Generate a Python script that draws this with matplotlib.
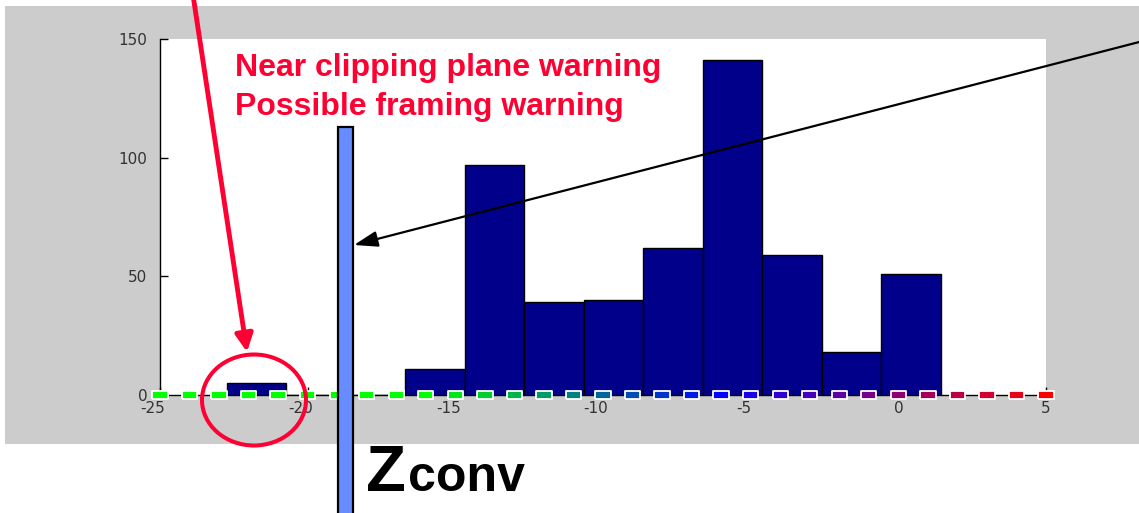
import numpy as np
import matplotlib
matplotlib.use("Agg")
import matplotlib.pyplot as plt
import matplotlib.transforms as mtransforms
from matplotlib.patches import Rectangle, Ellipse, FancyArrowPatch
from matplotlib.colors import LinearSegmentedColormap

W, H = 1139, 513

# depth histogram, 12 equal bins
bin_start = -22.74
bin_width = 2.015
counts = [5, 0, 0, 11, 97, 39, 40, 62, 141, 59, 18, 51]

# convergence plane
z_conv = -18.73
z_conv_top = 113

# coloured depth scale along the axis
depth_scale = [-25, -24, -23, -22, -21, -20, -19, -18, -17, -16, -15,
               -14, -13, -12, -11, -10, -9, -8, -7, -6, -5, -4, -3, -2,
               -1, 0, 1, 2, 3, 4, 5]
scale_green, scale_blue, scale_red = -16, -6, 5

x_ticks = [-25, -20, -15, -10, -5, 0, 5]
y_ticks = [0, 50, 100, 150]

warning_lines = ["Near clipping plane warning", "Possible framing warning"]

RED = "#ff0033"
NAVY = "#00008b"


def px(x, y):
    # image pixel -> figure fraction
    return x / W, 1 - y / H


fig = plt.figure(figsize=(W / 100, H / 100), dpi=100, facecolor="white")

# grey panel behind the plot
fig.add_artist(Rectangle(px(5, 444), (W - 5) / W, (444 - 6) / H,
                         transform=fig.transFigure, facecolor="#cccccc",
                         edgecolor="none", zorder=-10))

ax = fig.add_axes([160 / W, 1 - 395 / H, (1046 - 160) / W, (395 - 39) / H])
ax.set_facecolor("white")
ax.set_xlim(-25, 5)
ax.set_ylim(0, 150)

edges = bin_start + bin_width * np.arange(len(counts))
ax.bar(edges, counts, width=bin_width, align="edge", color=NAVY,
       edgecolor="black", linewidth=1, zorder=2)

# coloured scale markers
span = scale_red - scale_green
cmap = LinearSegmentedColormap.from_list(
    "depth", [(0, (0, 1, 0)), ((scale_blue - scale_green) / span, (0, 0, 1)),
              (1, (1, 0, 0))])
pos = np.clip((np.array(depth_scale) - scale_green) / span, 0, 1)
rect = [(-1, -0.58), (1, -0.58), (1, 0.58), (-1, 0.58), (-1, -0.58)]
ax.scatter(depth_scale, np.zeros(len(depth_scale)), c=cmap(pos), marker=rect,
           s=11 ** 2, edgecolors="white", linewidths=1.3, clip_on=False,
           zorder=5)

# Zconv bar, runs off the bottom of the picture
ax.bar(z_conv, z_conv_top + 60, bottom=-60, width=0.5, color="#668cff",
       edgecolor="black", linewidth=1.6, clip_on=False, zorder=8)

for s in ["top", "right"]:
    ax.spines[s].set_visible(False)
ax.spines["left"].set_linewidth(1)
ax.spines["bottom"].set_linewidth(1)
ax.spines["bottom"].set_zorder(1)

ax.set_xticks(x_ticks)
ax.set_xticklabels([str(t) for t in x_ticks])
ax.set_yticks(y_ticks)
ax.tick_params(axis="both", direction="in", length=6, width=1,
               labelsize=11, labelcolor="#333333")
ax.tick_params(axis="x", pad=4)
ax.tick_params(axis="y", pad=9)

# negative labels sit a little left of their tick
shift = mtransforms.ScaledTranslation(-7 / 100, 0, fig.dpi_scale_trans)
for t, tick in zip(x_ticks, ax.xaxis.get_major_ticks()):
    if t < 0:
        tick.label1.set_transform(tick.label1.get_transform() + shift)

# annotations
for i, line in enumerate(warning_lines):
    fig.text(*px(235, 76 + 39 * i), line, color=RED, fontsize=23,
             fontweight="bold", family="Liberation Sans", va="baseline",
             ha="left", zorder=12)

fig.text(*px(366, 491), "Z", fontsize=47, fontweight="bold",
         family="Liberation Sans", va="baseline", ha="left", zorder=12)
fig.text(*px(408, 491), "conv", fontsize=36, fontweight="bold",
         family="Liberation Sans", va="baseline", ha="left", zorder=12)

fig.add_artist(Ellipse(px(254, 400), 104 / W, 91 / H,
                       transform=fig.transFigure, fill=False, edgecolor=RED,
                       linewidth=2.9, zorder=11))

fig.add_artist(FancyArrowPatch(px(193, -5), px(247, 352),
                               transform=fig.transFigure,
                               arrowstyle="-|>,head_length=0.7,head_width=0.35",
                               mutation_scale=15, linewidth=3.5, color=RED,
                               shrinkA=0, shrinkB=0, zorder=11))

fig.add_artist(FancyArrowPatch(px(1145, 40.5), px(354, 245),
                               transform=fig.transFigure,
                               arrowstyle="-|>,head_length=1.2,head_width=0.4",
                               mutation_scale=12, linewidth=1.6, color="black",
                               shrinkA=0, shrinkB=0, zorder=11))

fig.savefig("out.png", dpi=100, facecolor="white")
